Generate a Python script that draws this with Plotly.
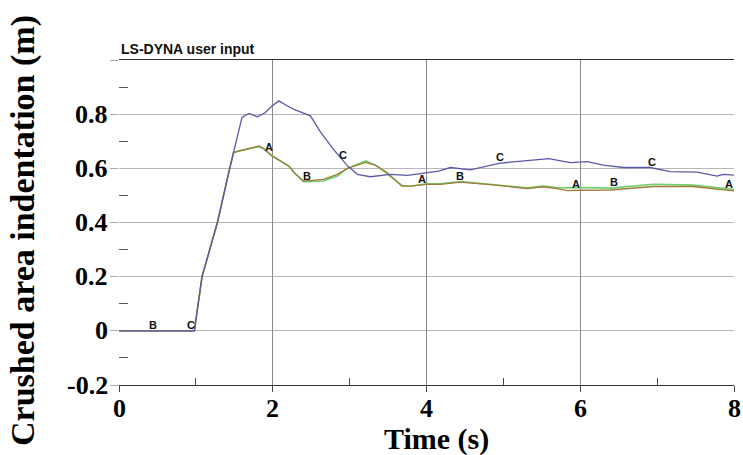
import numpy as np
import plotly.graph_objects as go

# Time (s) and crushed area indentation (m) for the three curves
t_A = [0, 0.98, 1.08, 1.28, 1.44, 1.49, 1.56, 1.69, 1.82, 1.88, 1.99, 2.10, 2.21, 2.30, 2.40,
       2.66, 2.84, 2.97, 3.10, 3.21, 3.34, 3.49, 3.68, 3.79, 4.00, 4.18, 4.44, 4.87, 5.31, 5.52,
       5.70, 5.83, 6.00, 6.39, 6.95, 7.47, 8.00]
y_A = [0, 0, 0.2, 0.4, 0.6, 0.658, 0.664, 0.674, 0.683, 0.674, 0.646, 0.627, 0.609, 0.578, 0.553,
       0.559, 0.578, 0.600, 0.611, 0.622, 0.611, 0.584, 0.534, 0.534, 0.541, 0.541, 0.549, 0.539, 0.525, 0.532,
       0.525, 0.518, 0.519, 0.520, 0.533, 0.533, 0.517]

t_B = t_A
y_B = [0, 0, 0.2, 0.4, 0.6, 0.658, 0.664, 0.672, 0.680, 0.672, 0.646, 0.627, 0.607, 0.578, 0.551,
       0.553, 0.572, 0.600, 0.615, 0.628, 0.611, 0.580, 0.537, 0.534, 0.543, 0.543, 0.551, 0.541, 0.528, 0.535,
       0.529, 0.528, 0.529, 0.527, 0.541, 0.538, 0.522]

t_C = [0, 0.98, 1.08, 1.28, 1.44, 1.52, 1.60, 1.69, 1.80, 1.905, 1.99, 2.08, 2.19, 2.30, 2.49,
       2.62, 2.79, 2.97, 3.10, 3.27, 3.53, 3.75, 4.00, 4.16, 4.31, 4.57, 4.96, 5.31, 5.59, 5.87,
       6.09, 6.30, 6.56, 6.91, 7.17, 7.52, 7.78, 7.86, 8.00]
y_C = [0, 0, 0.2, 0.4, 0.6, 0.700, 0.788, 0.803, 0.790, 0.806, 0.830, 0.849, 0.830, 0.815, 0.794,
       0.735, 0.670, 0.610, 0.578, 0.569, 0.578, 0.574, 0.584, 0.590, 0.603, 0.594, 0.619, 0.627, 0.636, 0.621,
       0.625, 0.612, 0.603, 0.603, 0.588, 0.586, 0.571, 0.578, 0.575]

# Curve label locations along time axis
label_t_A = [1.95, 3.94, 5.94, 7.93]
label_t_B = [0.445, 2.45, 4.44, 6.44]
label_t_C = [0.94, 2.92, 4.95, 6.93]

x_ticks = [0, 2, 4, 6, 8]
x_tick_text = ["0", "2", "4", "6", "8"]
x_minor = [1, 3, 5, 7]
y_ticks = [-0.2, 0, 0.2, 0.4, 0.6, 0.8, 1.0]
y_tick_text = ["-0.2", "0", "0.2", "0.4", "0.6", "0.8", ""]
y_minor = [-0.1, 0.1, 0.3, 0.5, 0.7, 0.9]

X_RANGE = [0, 8]
Y_RANGE = [-0.2, 1.0]

col_A = "#a27a3a"
col_B = "#6fcf6f"
col_C = "#5a5aa8"

SERIF = "Liberation Serif"
SANS = "Liberation Sans"

fig = go.Figure()
fig.add_trace(go.Scatter(x=t_B, y=y_B, mode="lines", line=dict(color=col_B, width=1.6), showlegend=False))
fig.add_trace(go.Scatter(x=t_A, y=y_A, mode="lines", line=dict(color=col_A, width=1.3), showlegend=False))
fig.add_trace(go.Scatter(x=t_C, y=y_C, mode="lines", line=dict(color=col_C, width=1.3), showlegend=False))

# overlay axes: x2 carries the vertical gridlines, x3 / y2 carry the short inner minor ticks
fig.add_trace(go.Scatter(x=[None], y=[None], xaxis="x2", yaxis="y", showlegend=False))
fig.add_trace(go.Scatter(x=[None], y=[None], xaxis="x3", yaxis="y2", showlegend=False))

annotations = []
for name, ts, tx, ty in (("A", label_t_A, t_A, y_A), ("B", label_t_B, t_B, y_B), ("C", label_t_C, t_C, y_C)):
    for t in ts:
        annotations.append(dict(
            x=t, y=float(np.interp(t, tx, ty)), xref="x", yref="y", text="<b>%s</b>" % name, showarrow=False,
            yshift=6, font=dict(family=SANS, size=11, color="#111")))

# bold serif tick numbers, placed at the tick values on each axis
tick_font = dict(family=SERIF, size=26, color="#000")
for v, s in zip(x_ticks, x_tick_text):
    annotations.append(dict(x=v, y=Y_RANGE[0], xref="x", yref="y", text="<b>%s</b>" % s, showarrow=False,
                            xanchor="center", yanchor="top", yshift=-7, font=tick_font))
for v, s in zip(y_ticks, y_tick_text):
    if s:
        annotations.append(dict(x=X_RANGE[0], y=v, xref="x", yref="y", text="<b>%s</b>" % s, showarrow=False,
                                xanchor="right", yanchor="middle", xshift=-9, font=tick_font))

annotations += [
    dict(text="<b>LS-DYNA user input</b>", xref="paper", yref="paper", x=0, y=1, xanchor="left",
         yanchor="bottom", yshift=1, showarrow=False, font=dict(family=SANS, size=14, color="#111")),
    dict(text="<b>Time (s)</b>", xref="paper", yref="paper", x=0.516, y=0, xanchor="center", yanchor="middle",
         yshift=-54, showarrow=False, font=dict(family=SERIF, size=30, color="#000")),
    dict(text="<b>Crushed area indentation (m)</b>", xref="paper", yref="paper", x=-0.156, y=0.474,
         xanchor="center", yanchor="middle", textangle=-90, showarrow=False,
         font=dict(family=SERIF, size=34, color="#000")),
]

fig.update_layout(
    width=743, height=455,
    margin=dict(l=119, r=9, t=60, b=70, autoexpand=False),
    paper_bgcolor="white", plot_bgcolor="white",
    font=dict(family=SERIF, size=26, color="#000"),
    annotations=annotations,
    xaxis=dict(range=X_RANGE, tickvals=x_ticks, showticklabels=False, showgrid=False,
               zeroline=False, showline=True, mirror=True, linecolor="#333", linewidth=1.3,
               ticks="outside", ticklen=6, tickcolor="#444", automargin=False),
    xaxis2=dict(range=X_RANGE, overlaying="x", matches="x", tickvals=[2, 4, 6, 8], showticklabels=False,
                showgrid=True, gridcolor="#8a8a8a", gridwidth=1, zeroline=False, showline=False, ticks="",
                automargin=False),
    xaxis3=dict(range=X_RANGE, overlaying="x", matches="x", anchor="y", tickvals=x_minor, showticklabels=False,
                showgrid=False, zeroline=False, showline=False, ticks="inside", ticklen=7, tickcolor="#444",
                automargin=False),
    yaxis=dict(range=Y_RANGE, tickvals=y_ticks, showticklabels=False,
               showgrid=True, gridcolor="#b8b8b8", gridwidth=1, zeroline=False, showline=False,
               ticks="outside", ticklen=8, tickcolor="#aaa", automargin=False),
    yaxis2=dict(range=Y_RANGE, overlaying="y", matches="y", anchor="x", side="left", tickvals=y_minor,
                showticklabels=False, showgrid=False, zeroline=False, showline=False, ticks="inside",
                ticklen=9, tickcolor="#555", automargin=False),
)

fig.write_html("out.html")
